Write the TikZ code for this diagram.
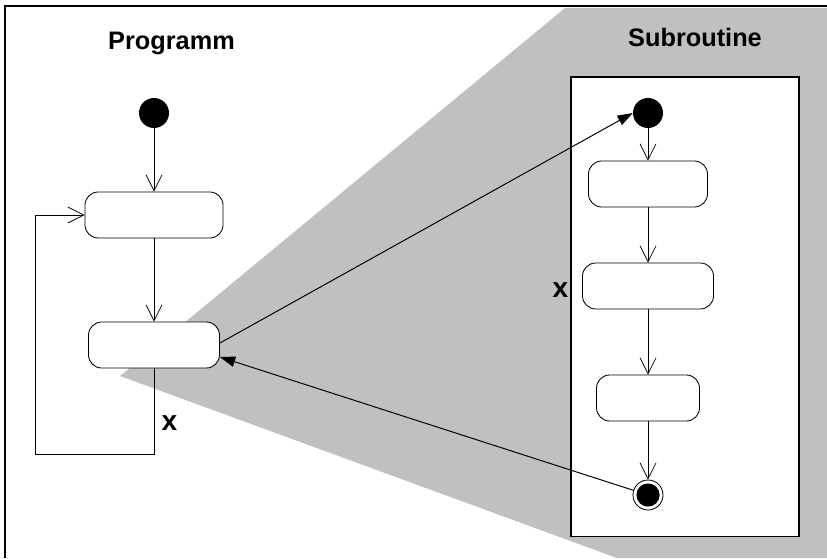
\documentclass[tikz,border=0pt]{standalone}
\usepackage{fontspec}
\setmainfont{Liberation Sans}
\usetikzlibrary{arrows.meta}
\definecolor{zoomgray}{RGB}{192,192,192}

\begin{document}
\begin{tikzpicture}[x=0.025cm,y=-0.025cm]
	\tikzstyle{action}=[draw,rounded corners=0.33cm,fill=white,minimum height=1.15cm,inner sep=0pt,line width=0.6pt]
	\tikzstyle{start}=[circle,fill,minimum size=0.75cm,inner sep=0pt]
	\tikzstyle{flow}=[-{Straight Barb[length=0.4cm,width=0.4cm]},line width=0.5pt]
	\tikzstyle{call}=[-{Triangle[length=0.38cm,width=0.26cm]},line width=0.7pt]
	\tikzstyle{title}=[anchor=base,font=\fontsize{18}{20}\selectfont\bfseries]
	\tikzstyle{guard}=[anchor=base,font=\fontsize{20}{22}\selectfont\bfseries]
	\useasboundingbox (0,0) rectangle (827,558);
	\fill[zoomgray] (565,8) -- (827,8) -- (827,558) -- (617,558) -- (120,376) -- cycle;
	\draw[line width=1.2pt] (5,558) -- (5,6) -- (827,6);
	\node[title] (ptitle) at (171.5,50) {Programm};
	\node[title] (stitle) at (695,47) {Subroutine};
	\node[draw,fill=white,line width=0.8pt,minimum width=5.7cm,minimum height=11.475cm,inner sep=0pt] (subframe) at (685,306.5) {};

	\node[start] (pstart) at (154,113) {};
	\node[action,minimum width=3.45cm] (pfirst) at (154,215) {};
	\node[action,minimum width=3.275cm] (pcall) at (154,345) {};
	\coordinate (pback) at (35,454);
	\draw[flow] (pstart.south) -- (pfirst.north);
	\draw[flow] (pfirst.south) -- (pcall.north);
	\draw[flow] (pcall.south) |- (pback) |- (pfirst.west);
	\node[guard] (pguard) at (169.5,430) {x};

	\node[start] (sstart) at (648,113) {};
	\node[action,minimum width=2.975cm] (sfirst) at (648,184) {};
	\node[action,minimum width=3.275cm] (ssecond) at (648,286) {};
	\node[action,minimum width=2.575cm] (sthird) at (648,398) {};
	\node[circle,draw,fill=white,minimum size=0.75cm,inner sep=0pt,line width=0.6pt] (send) at (648,495) {};
	\fill (send) circle (0.29cm);
	\draw[flow] (sstart.south) -- (sfirst.north);
	\draw[flow] (sfirst.south) -- (ssecond.north);
	\draw[flow] (ssecond.south) -- (sthird.north);
	\draw[flow] (sthird.south) -- (send.north);
	\node[guard] (sguard) at (560.5,297) {x};

	\draw[call] ([yshift=0.05cm]pcall.east) -- (sstart.west);
	\draw[call] (send) -- ([yshift=-0.3cm]pcall.east);
\end{tikzpicture}
\end{document}
